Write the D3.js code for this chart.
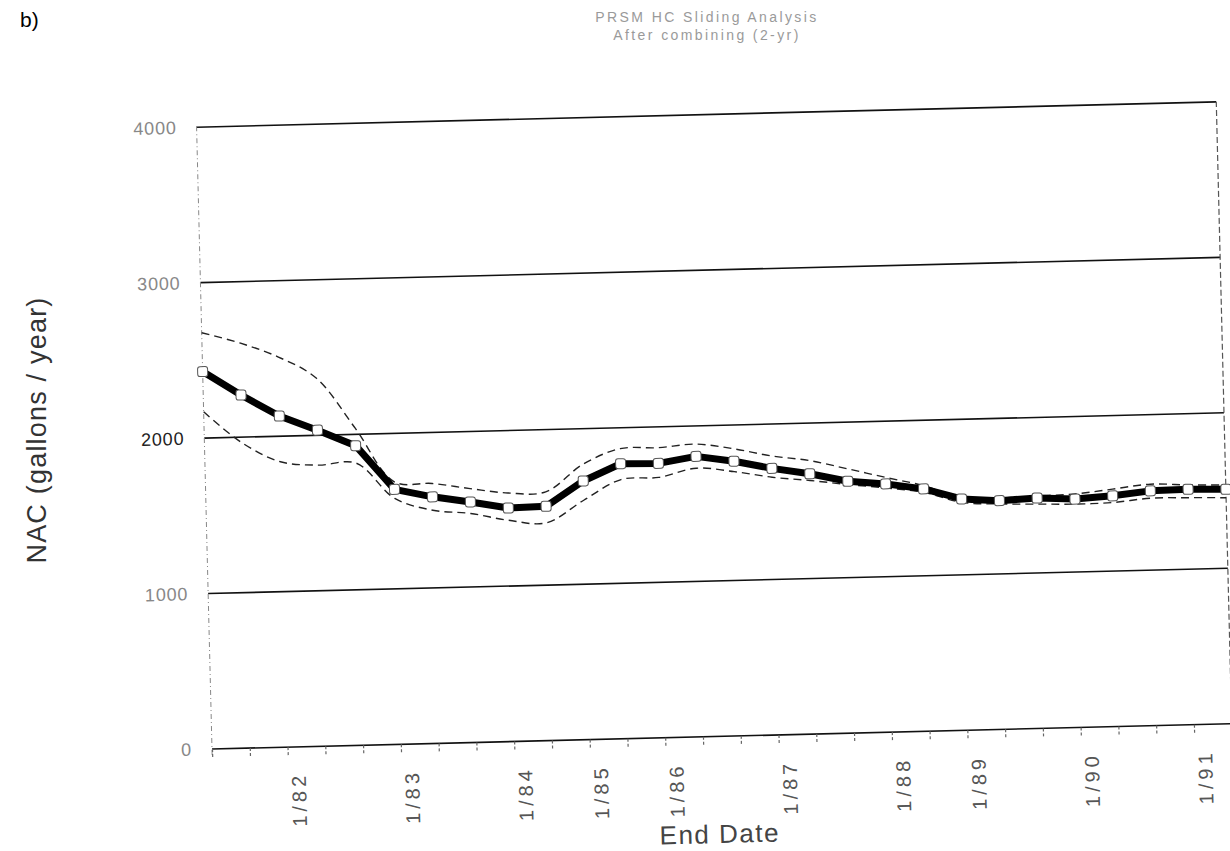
<!DOCTYPE html>
<html>
<head>
<meta charset="utf-8">
<script src="https://cdn.jsdelivr.net/npm/d3@7/dist/d3.min.js"></script>
<style>
  html, body { margin: 0; padding: 0; background: #fff; }
  svg { display: block; }
  text { font-family: "Liberation Sans", "DejaVu Sans", sans-serif; }
</style>
</head>
<body>
<script>
// Sliding-window NAC estimates, one per window end date (left to right)
const nac   = [2428, 2271, 2130, 2033, 1927, 1640, 1586, 1547, 1502, 1507, 1664, 1769, 1765, 1804,
               1767, 1715, 1674, 1620, 1597, 1559, 1488, 1471, 1482, 1469, 1484, 1510, 1514, 1508];
// Upper and lower confidence bounds
const upper = [2678, 2606, 2511, 2368, 2040, 1689, 1672, 1633, 1599, 1600, 1771, 1866, 1866, 1883,
               1847, 1795, 1759, 1700, 1639, 1580, 1498, 1488, 1496, 1502, 1527, 1553, 1542, 1536];
const lower = [2169, 1963, 1836, 1808, 1815, 1582, 1500, 1473, 1423, 1401, 1540, 1667, 1675, 1728,
               1700, 1658, 1631, 1599, 1571, 1537, 1466, 1450, 1443, 1437, 1441, 1463, 1460, 1454];
// Labelled end dates and the window they fall on
const labelIndex = [2, 5, 8, 10, 12, 15, 18, 20, 23, 26];
const tickLabels = ["1/82", "1/83", "1/84", "1/85", "1/86", "1/87", "1/88", "1/89", "1/90", "1/91"];
const yTicks = [0, 1000, 2000, 3000, 4000];

const width = 1230, height = 851;
const W = 1020, H = 622;
const originX = 212, originY = 749, tilt = -1.42;

const svg = d3.select("body").append("svg")
  .attr("width", width).attr("height", height);

const x = d3.scaleLinear().domain([0, nac.length - 1]).range([0, W]);
const y = d3.scaleLinear().domain([0, 4000]).range([0, -H]);

const g = svg.append("g")
  .attr("transform", `translate(${originX},${originY}) rotate(${tilt})`);

// horizontal grid lines
g.append("g").selectAll("line").data(yTicks).join("line")
  .attr("x1", 0).attr("x2", W)
  .attr("y1", d => y(d)).attr("y2", d => y(d))
  .attr("stroke", "#111").attr("stroke-width", 1.6);

// left and right frame edges (light, broken)
g.append("line")
  .attr("x1", 0).attr("x2", 0).attr("y1", y(0) + 6).attr("y2", y(4000) - 4)
  .attr("stroke", "#888").attr("stroke-width", 1).attr("stroke-dasharray", "5 3 1 3");
g.append("line")
  .attr("x1", W).attr("x2", W).attr("y1", y(0) + 4).attr("y2", y(4000))
  .attr("stroke", "#555").attr("stroke-width", 1.2).attr("stroke-dasharray", "6 3");

// y axis labels
const yAxis = g.append("g")
  .call(d3.axisLeft(y).tickValues(yTicks).tickSize(0).tickPadding(20).tickFormat(d3.format("d")));
yAxis.select(".domain").remove();
yAxis.selectAll("text")
  .attr("font-size", 18).attr("letter-spacing", 0.8)
  .attr("fill", d => d === 2000 ? "#222" : "#888")
  .attr("font-family", "Liberation Sans, sans-serif");

// x axis: a tick at every window end, labels on selected dates
const labelOf = new Map(labelIndex.map((d, k) => [d, tickLabels[k]]));
const xAxis = g.append("g")
  .call(d3.axisBottom(x).tickValues(d3.range(nac.length)).tickSize(10)
    .tickFormat(i => labelOf.get(i) || ""));
xAxis.select(".domain").remove();
xAxis.selectAll(".tick line")
  .attr("stroke", "#666").attr("stroke-width", 1.2).attr("stroke-dasharray", "3 2");
xAxis.selectAll(".tick text")
  .attr("transform", "rotate(-90)")
  .attr("text-anchor", "end")
  .attr("x", -25).attr("y", 2).attr("dy", "0.75em")
  .attr("font-size", 20).attr("fill", "#555").attr("letter-spacing", 4)
  .attr("font-family", "Liberation Sans, sans-serif");

// confidence bounds
const band = d3.line()
  .x((d, i) => x(i)).y(d => y(d))
  .curve(d3.curveCatmullRom.alpha(0.5));
[upper, lower].forEach(s => {
  g.append("path").datum(s)
    .attr("d", band)
    .attr("fill", "none").attr("stroke", "#222").attr("stroke-width", 1.4)
    .attr("stroke-dasharray", "8 5");
});

// main estimate line
const line = d3.line().x((d, i) => x(i)).y(d => y(d));
g.append("path").datum(nac)
  .attr("d", line)
  .attr("fill", "none").attr("stroke", "#000").attr("stroke-width", 7)
  .attr("stroke-linejoin", "round");

// markers
g.append("g").selectAll("rect").data(nac).join("rect")
  .attr("x", (d, i) => x(i) - 5).attr("y", d => y(d) - 5)
  .attr("width", 10).attr("height", 10).attr("rx", 2.5)
  .attr("fill", "#fff").attr("stroke", "#555").attr("stroke-width", 1);

// titles and axis names
svg.append("text")
  .attr("x", 20).attr("y", 27)
  .attr("font-family", "Liberation Serif, serif").attr("font-size", 21).attr("fill", "#000")
  .text("b)");

const title = svg.append("g").attr("transform", "translate(707,0)");
title.append("text").attr("y", 22).attr("text-anchor", "middle")
  .attr("font-size", 14).attr("letter-spacing", 2.4).attr("fill", "#9a9a9a")
  .text("PRSM HC Sliding Analysis");
title.append("text").attr("y", 40).attr("text-anchor", "middle")
  .attr("font-size", 14).attr("letter-spacing", 2.4).attr("fill", "#9a9a9a")
  .text("After combining (2-yr)");

svg.append("text")
  .attr("transform", `translate(720,843) rotate(${tilt})`)
  .attr("text-anchor", "middle")
  .attr("font-size", 26).attr("letter-spacing", 1.5).attr("fill", "#444")
  .text("End Date");

svg.append("text")
  .attr("transform", "translate(46,430) rotate(-90)")
  .attr("text-anchor", "middle")
  .attr("font-size", 27).attr("letter-spacing", 1.2).attr("fill", "#333")
  .text("NAC (gallons / year)");
</script>
</body>
</html>
